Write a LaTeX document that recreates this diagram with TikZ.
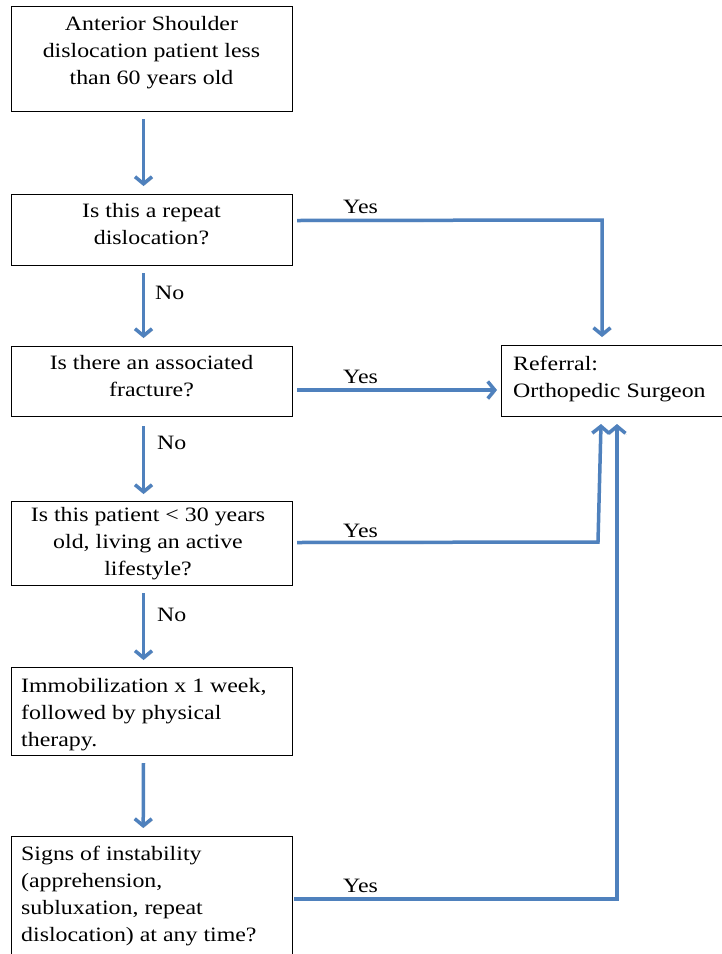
\documentclass[tikz,border=0pt]{standalone}
\usepackage{fontspec}
\setmainfont{Liberation Serif}[FakeStretch=1.17]
\usetikzlibrary{arrows.meta}
\definecolor{lineblue}{RGB}{79,129,189}
\tikzset{
  box/.style={draw=black, line width=1pt, anchor=north west, inner sep=0pt},
  txt/.style={inner sep=0pt, font=\fontsize{20.4}{27}\selectfont},
  lbl/.style={inner sep=0pt, anchor=base west, font=\fontsize{20.4}{27}\selectfont},
  conn/.style={draw=lineblue, line width=3.5pt, line join=miter,
    -{Straight Barb[length=7pt,width=17pt]},
    preaction={draw=black, opacity=0.18, transform canvas={shift={(1pt,-1.5pt)}}}},
}
\begin{document}
\begin{tikzpicture}[x=1pt,y=-1pt]
\clip (0,0) rectangle (722,954);
\fill[white] (0,0) rectangle (722,954);

% boxes
\node[box, minimum width=281, minimum height=105] (b1) at (11,6) {};
\node[box, minimum width=281, minimum height=71]  (b2) at (11,194) {};
\node[box, minimum width=281, minimum height=70]  (b3) at (11,346) {};
\node[box, minimum width=281, minimum height=84]  (b4) at (11,501) {};
\node[box, minimum width=281, minimum height=88]  (b5) at (11,667) {};
\node[inner sep=0pt, anchor=north west, minimum width=281, minimum height=140] (b6) at (11,836) {};
\draw[line width=1pt] (b6.south west) -- (b6.north west) -- (b6.north east) -- (b6.south east);
\node[box, minimum width=224, minimum height=71] (ref) at (501,345) {};

% texts (anchor = baseline of last line)
\node[txt, anchor=base, align=center] (t1) at (151.5,84)
  {Anterior Shoulder\\dislocation patient less\\than 60 years old};
\node[txt, anchor=base, align=center] (t2) at (151.5,244)
  {Is this a repeat\\dislocation?};
\node[txt, anchor=base, align=center] (t3) at (151.5,396)
  {Is there an associated\\fracture?};
\node[txt, anchor=base, align=center] (t4) at (148,575)
  {Is this patient < 30 years\\old, living an active\\lifestyle?};
\node[txt, anchor=base west, align=left] (t5) at (21,746)
  {Immobilization x 1 week,\\followed by physical\\therapy.};
\node[txt, anchor=base west, align=left] (t6) at (21,941)
  {Signs of instability\\(apprehension,\\subluxation, repeat\\dislocation) at any time?};
\node[txt, anchor=base west, align=left] (tr) at (513,397)
  {Referral:\\Orthopedic Surgeon};

% vertical arrows
\draw[conn] ([xshift=-8.5pt,yshift=-7pt]b1.south) -- ([xshift=-8.5pt,yshift=8pt]b2.north);
\draw[conn] ([xshift=-8.5pt,yshift=-7pt]b2.south) -- ([xshift=-8.5pt,yshift=8pt]b3.north);
\draw[conn] ([xshift=-8.5pt,yshift=-9pt]b3.south) -- ([xshift=-8.5pt,yshift=7pt]b4.north);
\draw[conn] ([xshift=-8.5pt,yshift=-7pt]b4.south) -- ([xshift=-8.5pt,yshift=7pt]b5.north);
\draw[conn] ([xshift=-8.5pt,yshift=-7pt]b5.south) -- ([xshift=-8.5pt,yshift=8pt]b6.north);

\node[lbl] (n1) at (155,299) {No};
\node[lbl] (n2) at (157,449) {No};
\node[lbl] (n3) at (157,621) {No};

% yes connectors
\coordinate (c2) at (602,220);
\coordinate (r2) at (602,337);
\draw[conn] ([xshift=4pt,yshift=9.5pt]b2.east) -- (c2) -- (r2);
\node[lbl] (y2) at (343,213) {Yes};

\draw[conn] ([xshift=4pt,yshift=-8.5pt]b3.east) -- ([xshift=-4pt,yshift=-9pt]ref.west);
\node[lbl] (y3) at (343,383) {Yes};

\coordinate (c4) at (598,542);
\coordinate (r4) at (601,424);
\draw[conn] ([xshift=4pt,yshift=1pt]b4.east) -- (c4) -- (r4);
\node[lbl] (y4) at (343,537) {Yes};

\coordinate (c6) at (617,899);
\coordinate (r6) at (617,424);
\draw[conn] (294,899) -- (c6) -- (r6);
\node[lbl] (y6) at (343,892) {Yes};
\end{tikzpicture}
\end{document}
